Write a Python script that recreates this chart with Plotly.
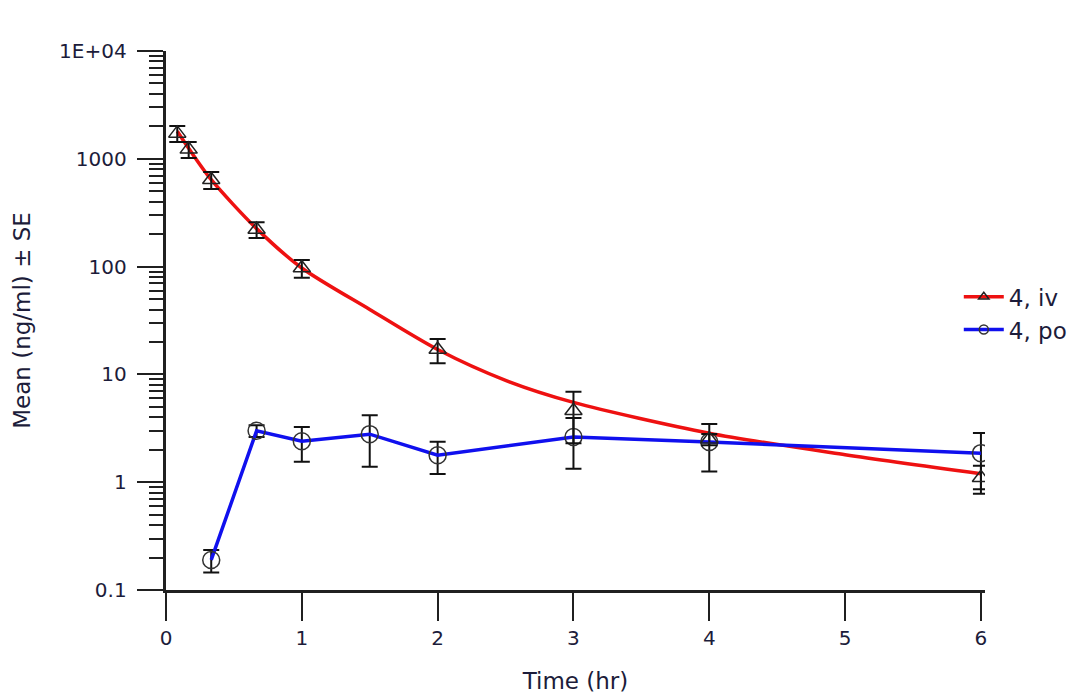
import plotly.graph_objects as go

# Observed data: IV dose
iv_time = [0.083, 0.167, 0.333, 0.667, 1, 2, 3, 4, 6]
iv_mean = [1720, 1224, 640, 221, 97, 17, 4.6, 2.5, 1.1]
iv_se = [290, 208, 115, 37, 18, 4.3, 2.3, 0.3, 0.32]

# Fitted curve for IV
fit_time = [0.083, 0.167, 0.333, 0.667, 1, 1.5, 2, 2.5, 3, 4, 5, 6]
fit_val = [1800, 1250, 640, 225, 97, 40, 17, 8.8, 5.5, 2.85, 1.8, 1.2]

# Observed data: PO dose
po_time = [0.333, 0.667, 1, 1.5, 2, 3, 4, 6]
po_mean = [0.19, 3.0, 2.4, 2.79, 1.78, 2.63, 2.36, 1.86]
po_se = [0.045, 0.38, 0.85, 1.4, 0.59, 1.3, 1.1, 1.0]

y_tickvals = [0.1, 1, 10, 100, 1000, 10000]
y_ticktext = ["0.1", "1", "10", "100", "1000", "1E+04"]
x_tickvals = [0, 1, 2, 3, 4, 5, 6]

FONT = "DejaVu Sans"
TXT = "#1c1c3a"
AX = "#202020"

fig = go.Figure()

fig.add_trace(go.Scatter(
    x=fit_time, y=fit_val, mode="lines",
    line=dict(color="#ee1111", width=3.5, shape="spline", smoothing=0.8),
    showlegend=False, hoverinfo="skip"))

fig.add_trace(go.Scatter(
    x=po_time, y=po_mean, mode="lines+markers",
    line=dict(color="#1010ee", width=3.5),
    marker=dict(symbol="circle-open", size=17, color="#333333", line=dict(width=1.5)),
    error_y=dict(type="data", array=po_se, color="#111111", thickness=2, width=8),
    showlegend=False))

fig.add_trace(go.Scatter(
    x=iv_time, y=iv_mean, mode="markers",
    marker=dict(symbol="triangle-up-open", size=15, color="#222222", line=dict(width=1.5)),
    error_y=dict(type="data", array=iv_se, color="#111111", thickness=2, width=8),
    showlegend=False))

# legend entries
fig.add_trace(go.Scatter(
    x=[None], y=[None], mode="lines+markers", name="4, iv",
    line=dict(color="#ee1111", width=3.5),
    marker=dict(symbol="triangle-up-open", size=9, color="#222222", line=dict(width=1.5))))
fig.add_trace(go.Scatter(
    x=[None], y=[None], mode="lines+markers", name="4, po",
    line=dict(color="#1010ee", width=3.5),
    marker=dict(symbol="circle-open", size=9, color="#333333", line=dict(width=1.5))))

fig.update_layout(
    width=1086, height=697,
    margin=dict(l=158, r=109, t=43, b=115),
    paper_bgcolor="white", plot_bgcolor="white",
    font=dict(family=FONT, size=20, color=TXT),
    legend=dict(x=0.968, y=0.584, xanchor="left", yanchor="top",
                bgcolor="rgba(0,0,0,0)", font=dict(size=23, color=TXT),
                tracegroupgap=0, itemwidth=40),
    xaxis=dict(
        range=[0, 6.03], tickvals=x_tickvals, showgrid=False, zeroline=False,
        showline=True, linecolor=AX, linewidth=3, automargin=False,
        ticks="outside", ticklen=28, tickwidth=2, tickcolor=AX,
        tickfont=dict(size=20, color=TXT),
        title=dict(text="Time (hr)", font=dict(size=23, color=TXT), standoff=24)),
    yaxis=dict(
        type="log", range=[-1, 4], tickvals=y_tickvals,
        ticktext=[t + "\u00a0" for t in y_ticktext],
        showgrid=False, zeroline=False, showline=True, linecolor=AX, linewidth=3,
        automargin=False,
        ticks="outside", ticklen=26, tickwidth=2, tickcolor=AX,
        tickfont=dict(size=20, color=TXT),
        minor=dict(ticks="outside", ticklen=14, tickwidth=2, tickcolor=AX,
                   dtick="D1", showgrid=False),
        title=dict(text="Mean (ng/ml) ± SE", font=dict(size=23, color=TXT), standoff=23)),
)

fig.write_html("out.html")
